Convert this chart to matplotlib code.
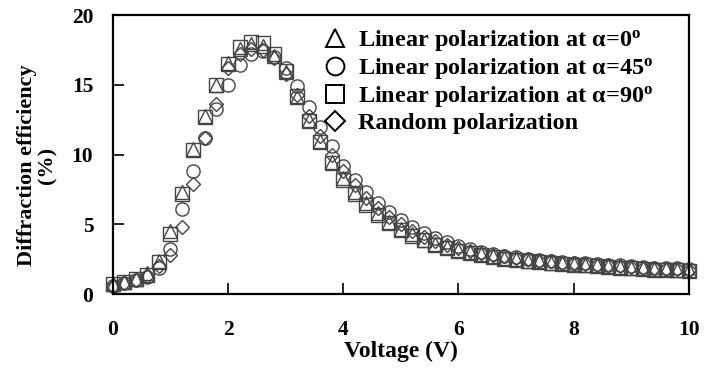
import matplotlib
matplotlib.use('Agg')
import matplotlib.pyplot as plt

plt.rcParams['font.family'] = ['Liberation Serif', 'DejaVu Serif']
plt.rcParams['font.weight'] = 'bold'
plt.rcParams['mathtext.fontset'] = 'custom'
plt.rcParams['mathtext.rm'] = 'Liberation Serif:bold'
plt.rcParams['mathtext.it'] = 'Liberation Serif:bold'
plt.rcParams['mathtext.bf'] = 'Liberation Serif:bold'

voltage = [0.0, 0.2, 0.4, 0.6, 0.8, 1.0, 1.2, 1.4, 1.6, 1.8,
           2.0, 2.2, 2.4, 2.6, 2.8, 3.0, 3.2, 3.4, 3.6, 3.8,
           4.0, 4.2, 4.4, 4.6, 4.8, 5.0, 5.2, 5.4, 5.6, 5.8,
           6.0, 6.2, 6.4, 6.6, 6.8, 7.0, 7.2, 7.4, 7.6, 7.8,
           8.0, 8.2, 8.4, 8.6, 8.8, 9.0, 9.2, 9.4, 9.6, 9.8, 10.0]

# alpha = 0 (triangles)
eff_0 = [0.7, 0.9, 1.1, 1.5, 2.4, 4.5, 7.3, 10.4, 12.8, 15.0,
         16.6, 17.6, 17.9, 17.8, 17.1, 15.9, 14.1, 12.5, 11.0, 9.5,
         8.3, 7.3, 6.5, 5.8, 5.2, 4.7, 4.3, 3.9, 3.6, 3.35,
         3.15, 3.0, 2.85, 2.7, 2.6, 2.5, 2.4, 2.35, 2.25, 2.2,
         2.15, 2.1, 2.05, 2.0, 1.95, 1.9, 1.85, 1.8, 1.8, 1.75, 1.7]
# alpha = 45 (circles)
eff_45 = [0.6, 0.8, 1.0, 1.2, 1.9, 3.2, 6.1, 8.8, 11.2, 13.3,
          15.0, 16.4, 17.2, 17.4, 17.0, 16.2, 14.9, 13.4, 12.0, 10.6,
          9.2, 8.2, 7.3, 6.5, 5.9, 5.3, 4.8, 4.4, 4.0, 3.7,
          3.45, 3.25, 3.05, 2.9, 2.75, 2.65, 2.55, 2.45, 2.4, 2.3,
          2.25, 2.2, 2.15, 2.1, 2.05, 2.0, 1.95, 1.9, 1.85, 1.85, 1.8]
# alpha = 90 (squares)
eff_90 = [0.7, 0.9, 1.1, 1.4, 2.3, 4.3, 7.2, 10.3, 12.7, 15.0,
          16.5, 17.7, 18.1, 18.0, 17.2, 16.0, 14.2, 12.4, 10.9, 9.4,
          8.2, 7.2, 6.4, 5.7, 5.1, 4.6, 4.2, 3.85, 3.55, 3.3,
          3.1, 2.95, 2.8, 2.65, 2.55, 2.45, 2.35, 2.3, 2.2, 2.15,
          2.1, 2.05, 2.0, 1.95, 1.9, 1.85, 1.8, 1.75, 1.75, 1.7, 1.65]
# random polarization (diamonds)
eff_rand = [0.6, 0.8, 1.0, 1.3, 2.0, 2.8, 4.8, 7.9, 11.2, 13.6,
            16.2, 17.2, 17.6, 17.5, 16.9, 15.8, 14.3, 12.8, 11.3, 10.0,
            8.8, 7.8, 6.9, 6.2, 5.5, 5.0, 4.5, 4.1, 3.8, 3.5,
            3.3, 3.1, 2.95, 2.8, 2.7, 2.6, 2.5, 2.4, 2.35, 2.25,
            2.2, 2.15, 2.1, 2.05, 2.0, 1.95, 1.9, 1.85, 1.8, 1.8, 1.75]

labels = ['Linear polarization at α=0$^{\\rm o}$',
          'Linear polarization at α=45$^{\\rm o}$',
          'Linear polarization at α=90$^{\\rm o}$',
          'Random polarization']

fig = plt.figure(figsize=(7.05, 3.69), dpi=100)
ax = fig.add_axes([0.160, 0.203, 0.817, 0.756])

series = [(eff_0, '^'), (eff_45, 'o'), (eff_90, 's'), (eff_rand, 'D')]
for (vals, mk), lab in zip(series, labels):
    ms = 7.5 if mk == 'D' else 9.5
    ax.plot(voltage, vals, linestyle='none', marker=mk, markersize=ms,
            markerfacecolor='none', markeredgecolor='#444444',
            markeredgewidth=1.0, clip_on=False, label=lab)

ax.set_xlim(0, 10)
ax.set_ylim(0, 20)
ax.set_xticks([0, 2, 4, 6, 8, 10])
ax.set_yticks([0, 5, 10, 15, 20])
ax.tick_params(axis='x', direction='in', length=8, width=1.2, pad=19, labelsize=15.5)
ax.tick_params(axis='y', direction='in', length=8, width=1.2, pad=14, labelsize=15.5)
for sp in ax.spines.values():
    sp.set_linewidth(1.6)

ax.set_xlabel('Voltage (V)', fontsize=17, fontweight='bold', labelpad=0)
fig.text(37 / 705, 1 - 165 / 369, 'Diffraction efficiency\n(%)', rotation=90,
         ha='center', va='center', multialignment='center',
         fontsize=16, fontweight='bold', linespacing=1.0)

leg = ax.legend(loc='upper left', bbox_to_anchor=(0.342, 1.0), frameon=False,
                fontsize=17.5, handletextpad=0.45, labelspacing=0.12,
                borderpad=0.05, handlelength=1.0, markerscale=1.35)
for h in leg.legend_handles:
    h.set_markeredgecolor('black')
    h.set_markeredgewidth(1.4)

fig.savefig('out.png', dpi=100)
